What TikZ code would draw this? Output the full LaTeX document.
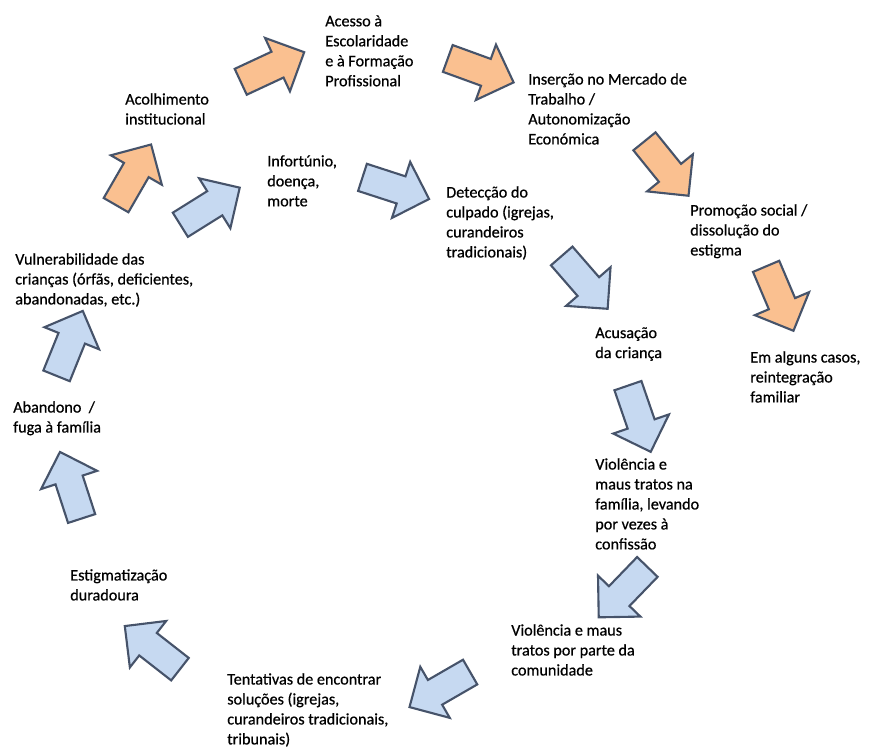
\documentclass[tikz,border=0pt]{standalone}
\usepackage{fontspec}
\setmainfont{Carlito}
\newfontfamily\stagefont{Carlito}[FakeBold=0.6]
\usetikzlibrary{shapes.arrows}
\definecolor{arrowblue}{HTML}{C6D9F1}
\definecolor{arroworange}{HTML}{FAC090}
\definecolor{arrowedge}{HTML}{46536A}
\tikzset {
  % text of each stage
  stage/.style = {anchor=north west, inner sep=0pt, align=left,
    font=\stagefont\fontsize{11.5}{14.2}\selectfont},
  % block arrows between stages
  block/.style = {single arrow, draw=arrowedge, line width=1.5pt, inner sep=0.33cm,
    minimum height=1.75cm, single arrow head extend=0.38cm},
  % the spiral into violence
  bad/.style = {block, fill=arrowblue},
  % the way out
  good/.style = {block, fill=arroworange},
}

\begin{document}
\begin{tikzpicture}[x=0.025cm, y=-0.025cm]
  \useasboundingbox[fill=white] (0,0) rectangle (880,749);

  % stages
  \node[stage] (acolh) at (125,93) {Acolhimento\\institucional};
  \node[stage] (acesso) at (325,15) {Acesso à\\Escolaridade\\e à Formação\\Profissional};
  \node[stage] (insercao) at (528,73) {Inserção no Mercado de\\Trabalho /\\Autonomização\\Económica};
  \node[stage] (promocao) at (690,204) {Promoção social /\\dissolução do\\estigma};
  \node[stage] (emalguns) at (750,351) {Em alguns casos,\\reintegração\\familiar};
  \node[stage] (infort) at (267,155) {Infortúnio,\\doença,\\morte};
  \node[stage] (deteccao) at (446,186) {Detecção do\\culpado (igrejas,\\curandeiros\\tradicionais)};
  \node[stage] (acusacao) at (595,327) {Acusação\\da criança};
  \node[stage] (violfam) at (595,458) {Violência e\\maus tratos na\\família, levando\\por vezes à\\confissão};
  \node[stage] (violcom) at (511,624) {Violência e maus\\tratos por parte da\\comunidade};
  \node[stage] (tentativas) at (227,673) {Tentativas de encontrar\\soluções (igrejas,\\curandeiros tradicionais,\\tribunais)};
  \node[stage] (estigm) at (70,569) {Estigmatização\\duradoura};
  \node[stage] (abandono) at (13,401) {Abandono~ /\\fuga à família};
  \node[stage] (vulner) at (15,253) {Vulnerabilidade das\\crianças (órfãs, deficientes,\\abandonadas, etc.)};

  % arrows out
  \node[good, rotate=60] (ar1) at (130,181) {};
  \node[good, rotate=25] (ar2) at (266,70) {};
  \node[good, rotate=-20] (ar3) at (474,68) {};
  \node[good, rotate=-51] (ar4) at (662,163) {};
  \node[good, rotate=-67] (ar5) at (777,292) {};

  % arrows round the circle
  \node[bad, rotate=32] (ar6) at (204,210) {};
  \node[bad, rotate=-18] (ar7) at (389,186) {};
  \node[bad, rotate=-49] (ar8) at (580,277) {};
  \node[bad, rotate=-71] (ar9) at (637,412) {};
  \node[bad, rotate=-134] (ar10) at (628,587) {};
  \node[bad, rotate=-150] (ar11) at (446,686) {};
  \node[bad, rotate=142] (ar12) at (158,652) {};
  \node[bad, rotate=108] (ar13) at (73,492) {};
  \node[bad, rotate=68] (ar14) at (67,350) {};
\end{tikzpicture}
\end{document}
